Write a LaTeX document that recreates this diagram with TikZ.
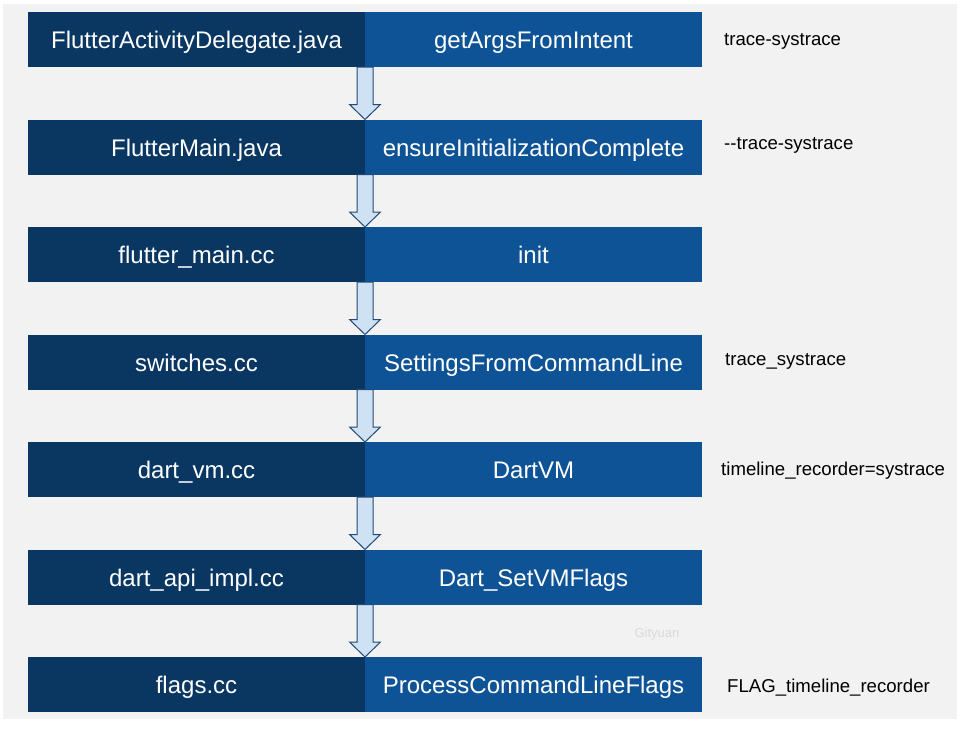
\documentclass[tikz,border=0pt]{standalone}
\usepackage{fontspec}
\setmainfont{Liberation Sans}
\usetikzlibrary{
  positioning
}
\definecolor{filenavy}{RGB}{9,55,98}
\definecolor{funcblue}{RGB}{14,83,150}
\definecolor{arrowfill}{RGB}{207,226,243}
\definecolor{arrowedge}{RGB}{34,74,118}
\definecolor{panelgray}{RGB}{242,242,242}
\definecolor{markgray}{RGB}{218,218,218}

\begin{document}
\begin{tikzpicture}[
    x=1pt, y=-1pt,
    node distance=52.5pt and 0pt,
    filebox/.style={
        rectangle,
        fill=filenavy,
        text=white,
        font=\fontsize{24}{28}\selectfont,
        text height=18pt,
        text depth=0pt,
        minimum width=337pt,
        minimum height=55pt,
        inner sep=0pt,
        outer sep=0pt
    },
    funcbox/.style={
        rectangle,
        fill=funcblue,
        text=white,
        font=\fontsize{24}{28}\selectfont,
        text height=18pt,
        text depth=0pt,
        minimum width=337pt,
        minimum height=55pt,
        inner sep=0pt,
        outer sep=0pt
    },
    flagnote/.style={
        anchor=west,
        inner sep=0pt,
        text height=12.5pt,
        text depth=0pt,
        font=\fontsize{18.6}{22}\selectfont
    },
    flowarrow/.style={draw=arrowedge, fill=arrowfill, line width=1pt, line join=miter}
]

\useasboundingbox (0,0) rectangle (975,736);
\fill[panelgray] (3,4) rectangle (957,719);

% Source files (left column)
\node[filebox] (file1) at (196.5,39.5) {FlutterActivityDelegate.java};
\node[filebox, below=of file1] (file2) {FlutterMain.java};
\node[filebox, below=of file2] (file3) {flutter\_main.cc};
\node[filebox, below=of file3] (file4) {switches.cc};
\node[filebox, below=of file4] (file5) {dart\_vm.cc};
\node[filebox, below=of file5] (file6) {dart\_api\_impl.cc};
\node[filebox, below=of file6] (file7) {flags.cc};

% Functions (right column)
\node[funcbox, right=of file1] (func1) {getArgsFromIntent};
\node[funcbox, right=of file2] (func2) {ensureInitializationComplete};
\node[funcbox, right=of file3] (func3) {init};
\node[funcbox, right=of file4] (func4) {SettingsFromCommandLine};
\node[funcbox, right=of file5] (func5) {DartVM};
\node[funcbox, right=of file6] (func6) {Dart\_SetVMFlags};
\node[funcbox, right=of file7] (func7) {ProcessCommandLineFlags};

% Flag names
\node[flagnote, right=22pt of func1] (flag1) {trace-systrace};
\node[flagnote, right=22pt of func2, yshift=4pt] (flag2) {-{}-trace-systrace};
\node[flagnote, right=23pt of func4, yshift=3pt] (flag4) {trace\_systrace};
\node[flagnote, right=19pt of func5] (flag5) {timeline\_recorder=systrace};
\node[flagnote, right=25pt of func7, yshift=-1.5pt] (flag7) {FLAG\_timeline\_recorder};

\node[font=\fontsize{13}{15}\selectfont, text=markgray] (mark) at (657,634) {Gityuan};

% Arrows
\draw[flowarrow] ([xshift=-8pt]file1.south east) -- ([xshift=-8pt,yshift=15pt]file2.north east) -- ([xshift=-15.5pt,yshift=15pt]file2.north east) -- (file2.north east) -- ([xshift=15.5pt,yshift=15pt]file2.north east) -- ([xshift=8pt,yshift=15pt]file2.north east) -- ([xshift=8pt]file1.south east) -- cycle;
\draw[flowarrow] ([xshift=-8pt]file2.south east) -- ([xshift=-8pt,yshift=15pt]file3.north east) -- ([xshift=-15.5pt,yshift=15pt]file3.north east) -- (file3.north east) -- ([xshift=15.5pt,yshift=15pt]file3.north east) -- ([xshift=8pt,yshift=15pt]file3.north east) -- ([xshift=8pt]file2.south east) -- cycle;
\draw[flowarrow] ([xshift=-8pt]file3.south east) -- ([xshift=-8pt,yshift=15pt]file4.north east) -- ([xshift=-15.5pt,yshift=15pt]file4.north east) -- (file4.north east) -- ([xshift=15.5pt,yshift=15pt]file4.north east) -- ([xshift=8pt,yshift=15pt]file4.north east) -- ([xshift=8pt]file3.south east) -- cycle;
\draw[flowarrow] ([xshift=-8pt]file4.south east) -- ([xshift=-8pt,yshift=15pt]file5.north east) -- ([xshift=-15.5pt,yshift=15pt]file5.north east) -- (file5.north east) -- ([xshift=15.5pt,yshift=15pt]file5.north east) -- ([xshift=8pt,yshift=15pt]file5.north east) -- ([xshift=8pt]file4.south east) -- cycle;
\draw[flowarrow] ([xshift=-8pt]file5.south east) -- ([xshift=-8pt,yshift=15pt]file6.north east) -- ([xshift=-15.5pt,yshift=15pt]file6.north east) -- (file6.north east) -- ([xshift=15.5pt,yshift=15pt]file6.north east) -- ([xshift=8pt,yshift=15pt]file6.north east) -- ([xshift=8pt]file5.south east) -- cycle;
\draw[flowarrow] ([xshift=-8pt]file6.south east) -- ([xshift=-8pt,yshift=15pt]file7.north east) -- ([xshift=-15.5pt,yshift=15pt]file7.north east) -- (file7.north east) -- ([xshift=15.5pt,yshift=15pt]file7.north east) -- ([xshift=8pt,yshift=15pt]file7.north east) -- ([xshift=8pt]file6.south east) -- cycle;

\end{tikzpicture}
\end{document}
